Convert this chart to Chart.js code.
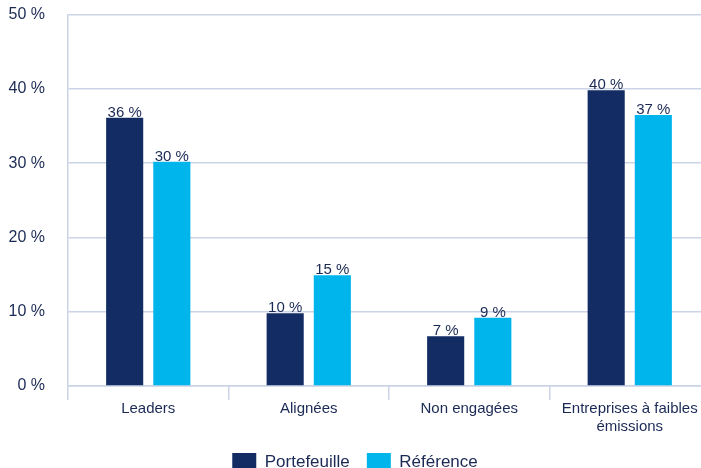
<!DOCTYPE html>
<html>
<head>
<meta charset="utf-8">
<script src="https://cdn.jsdelivr.net/npm/chart.js@4"></script>
<style>
  html, body { margin: 0; padding: 0; background: #fff; overflow: hidden; }
  #wrap { position: relative; top: -18px; width: 710px; height: 499px; }
</style>
</head>
<body>
<div id="wrap"><canvas id="chart"></canvas></div>
<script>
const categories = ['Leaders', 'Alignées', 'Non engagées', ['Entreprises à faibles', 'émissions']];
const portefeuille = [36.1, 9.8, 6.7, 39.8];
const reference = [30.2, 14.9, 9.2, 36.5];

const navy = '#132c64';
const cyan = '#00b5eb';
const gridColor = '#cad4e6';
const textColor = '#1b2a55';
const fontFamily = 'Arial, "Liberation Sans", Helvetica, sans-serif';

// value labels above each bar
const barLabels = {
    id: 'barLabels',
    afterDatasetsDraw(chart) {
        const ctx = chart.ctx;
        ctx.save();
        ctx.font = '15px ' + fontFamily;
        ctx.fillStyle = textColor;
        ctx.textAlign = 'center';
        ctx.textBaseline = 'alphabetic';
        chart.data.datasets.forEach((ds, i) => {
            chart.getDatasetMeta(i).data.forEach((bar, j) => {
                ctx.fillText(Math.round(ds.data[j]) + ' %', bar.x, bar.y - 1);
            });
        });
        ctx.restore();
    }
};

new Chart(document.getElementById('chart'), {
    type: 'bar',
    data: {
        labels: categories,
        datasets: [
            { label: 'Portefeuille', data: portefeuille, backgroundColor: navy },
            { label: 'Référence', data: reference, backgroundColor: cyan }
        ]
    },
    options: {
        responsive: true,
        maintainAspectRatio: false,
        animation: false,
        datasets: { bar: { categoryPercentage: 0.5875, barPercentage: 0.787 } },
        layout: { padding: { top: 0, left: 0, right: 0, bottom: 0 } },
        scales: {
            x: {
                grid: { display: true, drawOnChartArea: false, drawTicks: true, tickLength: 14, color: gridColor, lineWidth: 1.5 },
                border: { display: true, color: gridColor, width: 1.5 },
                ticks: { color: textColor, font: { size: 15, family: fontFamily }, padding: 0, maxRotation: 0, autoSkip: false }
            },
            y: {
                min: 0, max: 50,
                afterFit(s) { s.width = 68; },
                grid: { color: gridColor, lineWidth: 1.5, drawTicks: false },
                border: { display: true, color: gridColor, width: 1.5 },
                ticks: {
                    stepSize: 10, padding: 23, color: textColor,
                    font: { size: 16, family: fontFamily },
                    callback: v => v + ' %'
                }
            }
        },
        plugins: {
            legend: {
                position: 'bottom',
                labels: {
                    color: textColor, boxWidth: 24, boxHeight: 18, padding: 17,
                    font: { size: 17, family: fontFamily }
                }
            },
            tooltip: { enabled: false }
        }
    },
    plugins: [barLabels]
});
</script>
</body>
</html>
